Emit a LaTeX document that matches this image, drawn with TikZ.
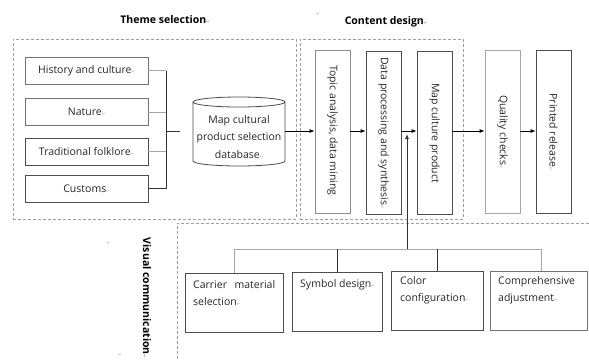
\documentclass[tikz,border=0pt]{standalone}
\usepackage{fontspec}
\setmainfont{Open Sans}
\newfontfamily\symfont{DejaVu Sans}
\usetikzlibrary{arrows.meta}
\newcommand{\pmk}{{\symfont\fontsize{4}{4}\selectfont\color{gray!80}↵}}
\begin{document}
\begin{tikzpicture}[x=1pt,y=-1pt,
  box/.style={draw=black!70, line width=0.8pt, inner sep=0pt},
  lbox/.style={box, minimum width=123pt, minimum height=27pt, font=\fontsize{10.5}{12}\selectfont, text=black!85},
  tall/.style={box, minimum width=35pt, minimum height=163pt},
  vtext/.style={rotate=-90, inner sep=0pt, font=\fontsize{10.5}{12}\selectfont, text=black!85},
  bbox/.style={box, minimum height=59pt},
  btext/.style={anchor=north west, inner sep=0pt, align=justify, text width=#1, font=\fontsize{10.5}{17.5}\selectfont, text=black!85},
  frame/.style={draw=gray!75, dash pattern=on 3pt off 2pt, line width=0.6pt},
  arr/.style={-{Latex[length=5pt,width=4pt]}, line width=0.8pt},
  conn/.style={line width=0.8pt, draw=black!80},
  lconn/.style={line width=0.8pt, draw=black!35},
  head/.style={font=\bfseries\fontsize{10.5}{12}\selectfont, inner sep=0pt}
]
\useasboundingbox (0,0) rectangle (589,360);

% headings
\node[head] (h1) at (165,20) {Theme selection\pmk};
\node[head] (h2) at (386,22) {Content design\pmk};
\node[head, rotate=-90] (h3) at (147,298) {Visual communication\pmk};
\node[inner sep=0pt] (m1) at (318,14) {\pmk};
\node[inner sep=0pt] (m2) at (108,243) {\pmk};
\node[inner sep=0pt] (m3) at (120,355) {\pmk};

% dashed frames
\node[frame, minimum width=283pt, minimum height=180pt, inner sep=0pt] (fr1) at (154.5,129) {};
\node[frame, minimum width=163pt, minimum height=180pt, inner sep=0pt] (fr2) at (381.5,129) {};
\coordinate (fr3a) at (589,223);
\coordinate (fr3b) at (177,223);
\coordinate (fr3c) at (177,360);
\draw[frame] (fr3a) -- (fr3b) -- (fr3c);

% left boxes
\node[lbox, draw=black!55] (hist) at (86.5,70.5) {History and culture\pmk};
\node[lbox, draw=black!55] (nat) at (86.5,112) {Nature\pmk};
\node[lbox] (trad) at (86.5,151.5) {Traditional folklore\pmk};
\node[lbox] (cust) at (86.5,188.5) {Customs\pmk};

% bus
\coordinate (bt) at (166,70.5);
\coordinate (bb) at (166,188.5);
\coordinate (bm) at (166,131);
\coordinate (dbin) at (180,131);
\draw[lconn] (hist.east) -- (hist.east -| bt);
\draw[lconn] (nat.east) -- (nat.east -| bt);
\draw[lconn] (trad.east) -- (trad.east -| bt);
\draw[conn] (cust.east) -- (cust.east -| bb);
\draw[conn] (bt) -- (bb);
\draw[conn] (bm) -- (dbin);

% cylinder
\draw[draw=black!70, line width=0.8pt, fill=white]
  (193,102) -- (193,161) arc[start angle=180, end angle=360, x radius=46, y radius=-5]
  -- (285,102) arc[start angle=0, end angle=180, x radius=46, y radius=-5] -- cycle;
\draw[draw=black!70, line width=0.8pt] (193,102) arc[start angle=180, end angle=360, x radius=46, y radius=-5];
\node[inner sep=0pt, minimum width=92pt, minimum height=69pt] (db) at (239,131) {};
\node[align=center, inner sep=0pt, font=\fontsize{10.5}{17.5}\selectfont, text=black!85] (dbt) at (239,137) {Map cultural\\product selection\\database\pmk};

% tall boxes
\node[tall, draw=black!45] (topic) at (332.5,132) {};
\node[vtext] (topict) at (topic) {Topic analysis, data mining\pmk};
\node[tall] (data) at (383.5,132.5) {};
\node[vtext] (datat) at (383.5,133) {Data processing and synthesis\pmk};
\node[tall] (map) at (434.5,133) {};
\node[vtext] (mapt) at (map) {Map culture product};
\node[tall, draw=black!35] (qual) at (502.5,132) {};
\node[vtext] (qualt) at (qual) {Quality checks\pmk};
\node[tall] (print) at (553.5,132) {};
\node[vtext] (printt) at (print) {Printed release\pmk};

% arrows
\draw[arr] (db.east) -- (db.east -| topic.west);
\draw[arr] (topic.east |- db.east) -- (db.east -| data.west);
\draw[arr] (data.east |- db.east) -- (db.east -| map.west);
\draw[arr] (map.east |- db.east) -- (db.east -| qual.west);
\draw[arr] (qual.east |- db.east) -- (db.east -| print.west);

% bottom boxes
\node[bbox, minimum width=98pt] (carr) at (234,302.5) {};
\node[bbox, minimum width=90pt] (sym) at (337,301.5) {};
\node[bbox, minimum width=92pt] (col) at (437,301) {};
\node[bbox, minimum width=97pt, draw=black!55] (comp) at (538.5,300.5) {};
\node[btext=82pt] (carrt) at (193,280) {Carrier material selection\pmk};
\node[btext=80pt] (symt) at (300,279) {Symbol design\pmk};
\node[btext=82pt, align=left] (colt) at (400,276) {Color\\configuration\pmk};
\node[btext=88pt, align=left] (compt) at (498,276) {Comprehensive\\adjustment\pmk};

% bottom bus
\coordinate (vb) at (407,249);
\coordinate (vt) at (407,134);
\coordinate (bl) at (234,249);
\coordinate (br) at (541,249);
\draw[lconn] (bl) -- (br);
\draw[lconn] (bl) -- (carr.north);
\draw[conn] (sym.north |- bl) -- (sym.north);
\draw[conn] (col.north |- bl) -- (col.north);
\draw[lconn] (541,249) -- (541,271);
\draw[arr, draw=black!80] (vb) -- (vt);
\end{tikzpicture}
\end{document}
